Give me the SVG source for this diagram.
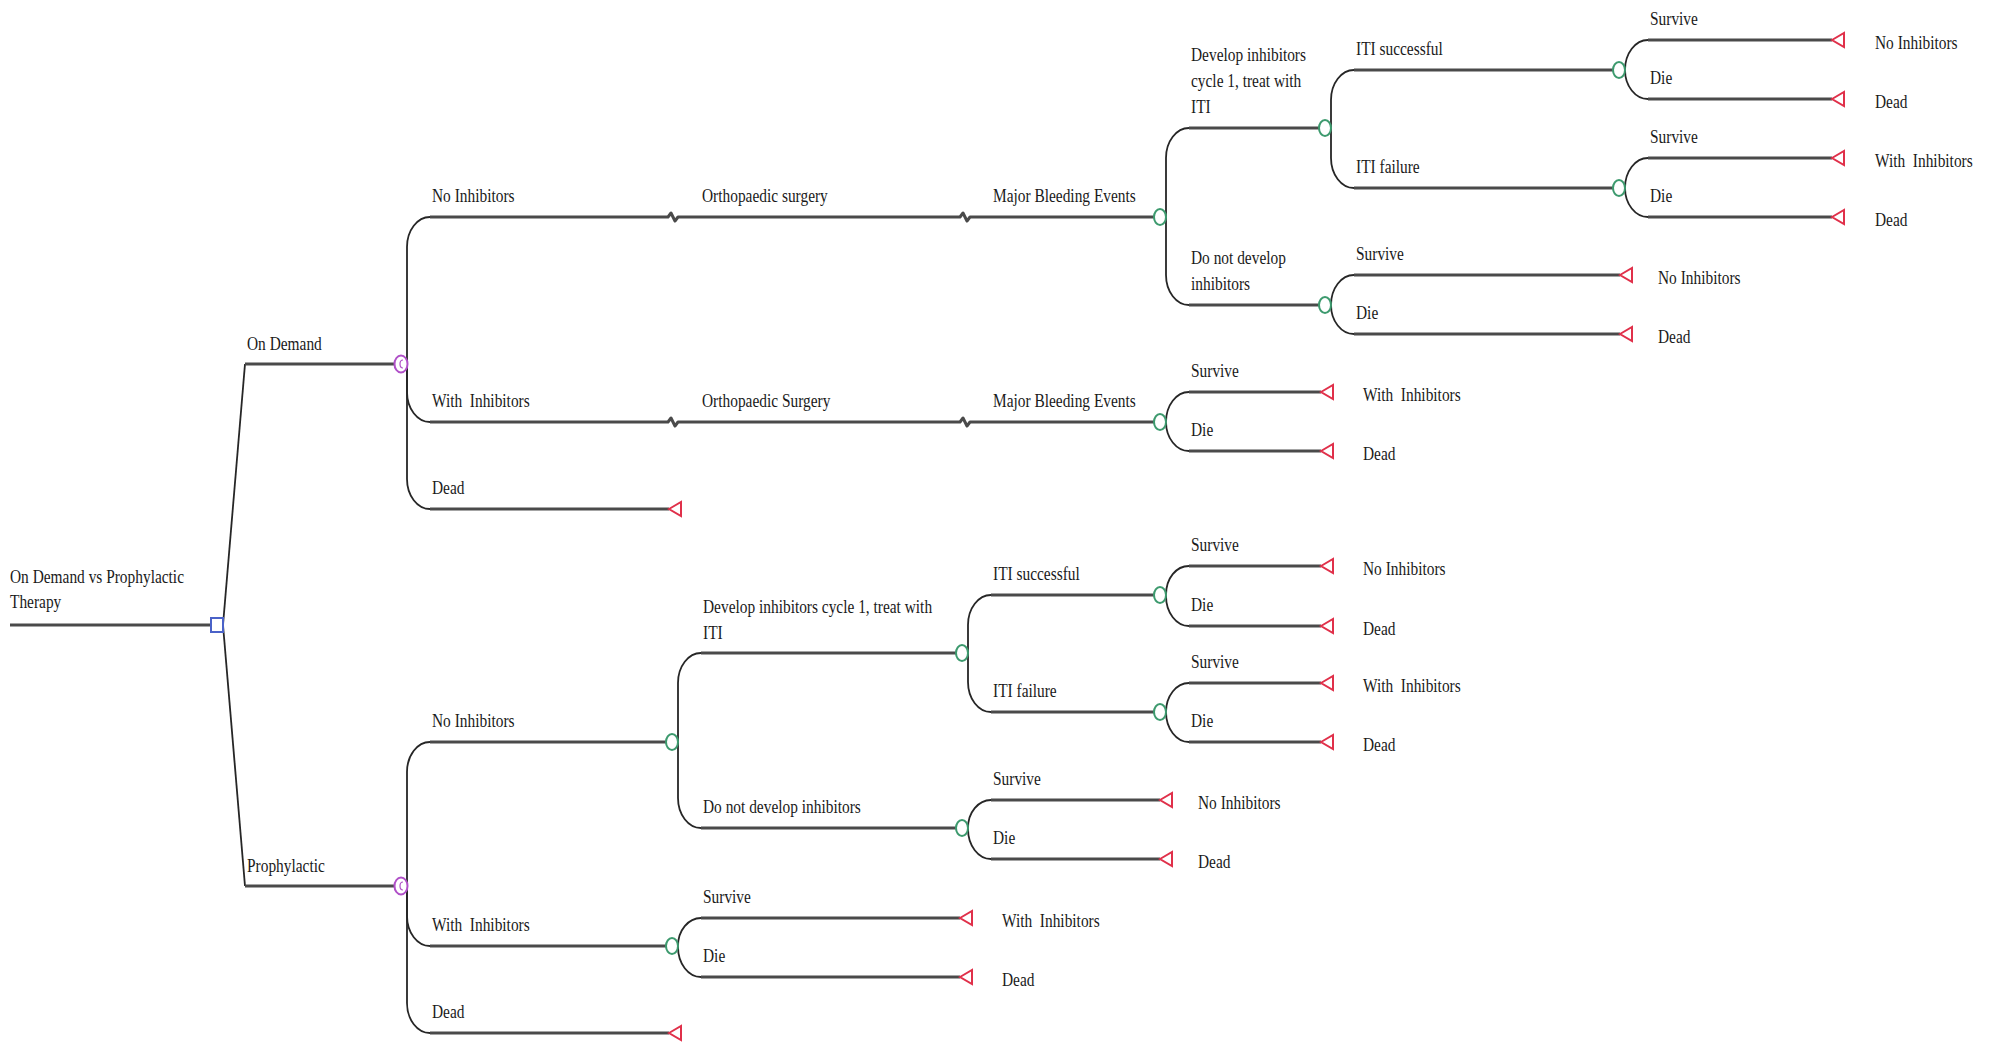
<svg xmlns="http://www.w3.org/2000/svg" width="1992" height="1044" viewBox="0 0 1992 1044">
<style>
  text { font-family: "Liberation Serif", "Times New Roman", serif; font-size: 15.4px; fill: #1a1a1a; white-space: pre; }
  .ln { fill: none; stroke: #4a4a4a; stroke-width: 3; stroke-linejoin: round; }
  .cv { fill: none; stroke: #262626; stroke-width: 1.8; }
  .dec { fill: #fff; stroke: #4a62c8; stroke-width: 2; }
  .mk { fill: #fff; stroke: #b050c8; stroke-width: 2; }
  .ch { fill: #fff; stroke: #3d9a6e; stroke-width: 2; }
  .tm { fill: #fff; stroke: #e0304a; stroke-width: 2; stroke-linejoin: miter; }
</style>
<rect width="1992" height="1044" fill="#fff"/>
<defs>
  <polygon id="tri" points="0,0 12,-7 12,7"/>
</defs>

<g id="connectors">
  <!-- root -->
  <path class="ln" d="M10,625 H211"/>
  <path class="cv" d="M223,625 L245,364"/>
  <path class="cv" d="M223,625 L245,886"/>
  <path class="ln" d="M245,364 H395"/>
  <path class="ln" d="M245,886 H395"/>
  <!-- P1 -->
  <path class="cv" d="M407,364 V247 C407,230.4 417.3,217 430,217"/>
  <path class="cv" d="M407,364 V392 C407,408.6 417.3,422 430,422"/>
  <path class="cv" d="M407,364 V479 C407,495.6 417.3,509 430,509"/>
  <path class="ln" d="M430,217 H668 L671,213 L675,221 L678,217 H960 L963,213 L967,221 L970,217 H1154"/>
  <path class="ln" d="M430,422 H668 L671,418 L675,426 L678,422 H960 L963,418 L967,426 L970,422 H1154"/>
  <path class="ln" d="M430,509 H669"/>
  <!-- G1 -->
  <path class="cv" d="M1166,217 V158 C1166,141.4 1176.3,128 1189,128"/>
  <path class="cv" d="M1166,217 V275 C1166,291.6 1176.3,305 1189,305"/>
  <path class="ln" d="M1189,128 H1319"/>
  <path class="ln" d="M1189,305 H1319"/>
  <!-- G3 -->
  <path class="cv" d="M1331,128 V100 C1331,83.4 1341.3,70 1354,70"/>
  <path class="cv" d="M1331,128 V158 C1331,174.6 1341.3,188 1354,188"/>
  <path class="ln" d="M1354,70 H1613"/>
  <path class="ln" d="M1354,188 H1613"/>
  <!-- G5 -->
  <path class="cv" d="M1625,70 C1625,53.4 1635.3,40 1648,40"/>
  <path class="cv" d="M1625,70 C1625,86 1635.3,99 1648,99"/>
  <path class="ln" d="M1648,40 H1832"/>
  <path class="ln" d="M1648,99 H1832"/>
  <!-- G6 -->
  <path class="cv" d="M1625,188 C1625,171.4 1635.3,158 1648,158"/>
  <path class="cv" d="M1625,188 C1625,204 1635.3,217 1648,217"/>
  <path class="ln" d="M1648,158 H1832"/>
  <path class="ln" d="M1648,217 H1832"/>
  <!-- G4 -->
  <path class="cv" d="M1331,305 C1331,288.4 1341.3,275 1354,275"/>
  <path class="cv" d="M1331,305 C1331,321 1341.3,334 1354,334"/>
  <path class="ln" d="M1354,275 H1620"/>
  <path class="ln" d="M1354,334 H1620"/>
  <!-- G2 -->
  <path class="cv" d="M1166,422 C1166,405.4 1176.3,392 1189,392"/>
  <path class="cv" d="M1166,422 C1166,438 1176.3,451 1189,451"/>
  <path class="ln" d="M1189,392 H1321"/>
  <path class="ln" d="M1189,451 H1321"/>
  <!-- P2 -->
  <path class="cv" d="M407,886 V772 C407,755.4 417.3,742 430,742"/>
  <path class="cv" d="M407,886 V916 C407,932.6 417.3,946 430,946"/>
  <path class="cv" d="M407,886 V1003 C407,1019.6 417.3,1033 430,1033"/>
  <path class="ln" d="M430,742 H666"/>
  <path class="ln" d="M430,946 H666"/>
  <path class="ln" d="M430,1033 H669"/>
  <!-- G7 -->
  <path class="cv" d="M678,742 V683 C678,666.4 688.3,653 701,653"/>
  <path class="cv" d="M678,742 V798 C678,814.6 688.3,828 701,828"/>
  <path class="ln" d="M701,653 H956"/>
  <path class="ln" d="M701,828 H956"/>
  <!-- G9 -->
  <path class="cv" d="M968,653 V625 C968,608.4 978.3,595 991,595"/>
  <path class="cv" d="M968,653 V682 C968,698.6 978.3,712 991,712"/>
  <path class="ln" d="M991,595 H1154"/>
  <path class="ln" d="M991,712 H1154"/>
  <!-- G11 -->
  <path class="cv" d="M1166,595 C1166,578 1176.3,566 1189,566"/>
  <path class="cv" d="M1166,595 V596 C1166,612.6 1176.3,626 1189,626"/>
  <path class="ln" d="M1189,566 H1321"/>
  <path class="ln" d="M1189,626 H1321"/>
  <!-- G12 -->
  <path class="cv" d="M1166,712 C1166,696 1176.3,683 1189,683"/>
  <path class="cv" d="M1166,712 C1166,728.6 1176.3,742 1189,742"/>
  <path class="ln" d="M1189,683 H1321"/>
  <path class="ln" d="M1189,742 H1321"/>
  <!-- G10 -->
  <path class="cv" d="M968,828 C968,812.5 978.3,800 991,800"/>
  <path class="cv" d="M968,828 V829 C968,845.6 978.3,859 991,859"/>
  <path class="ln" d="M991,800 H1160"/>
  <path class="ln" d="M991,859 H1160"/>
  <!-- G8 -->
  <path class="cv" d="M678,946 C678,930.5 688.3,918 701,918"/>
  <path class="cv" d="M678,946 V947 C678,963.6 688.3,977 701,977"/>
  <path class="ln" d="M701,918 H960"/>
  <path class="ln" d="M701,977 H960"/>
</g>

<g id="branch-labels">
  <text transform="translate(10 583) scale(1 1.2)">On Demand vs Prophylactic</text>
  <text transform="translate(10 608) scale(1 1.2)">Therapy</text>
  <text transform="translate(247 350) scale(1 1.2)">On Demand</text>
  <text transform="translate(247 872) scale(1 1.2)">Prophylactic</text>
  <text transform="translate(432 202) scale(1 1.2)">No Inhibitors</text>
  <text transform="translate(432 407) scale(1 1.2)">With  Inhibitors</text>
  <text transform="translate(432 494) scale(1 1.2)">Dead</text>
  <text transform="translate(702 202) scale(1 1.2)">Orthopaedic surgery</text>
  <text transform="translate(702 407) scale(1 1.2)">Orthopaedic Surgery</text>
  <text transform="translate(993 202) scale(1 1.2)">Major Bleeding Events</text>
  <text transform="translate(993 407) scale(1 1.2)">Major Bleeding Events</text>
  <text transform="translate(1191 61) scale(1 1.2)">Develop inhibitors</text>
  <text transform="translate(1191 87) scale(1 1.2)">cycle 1, treat with</text>
  <text transform="translate(1191 113) scale(1 1.2)">ITI</text>
  <text transform="translate(1191 264) scale(1 1.2)">Do not develop</text>
  <text transform="translate(1191 290) scale(1 1.2)">inhibitors</text>
  <text transform="translate(1356 55) scale(1 1.2)">ITI successful</text>
  <text transform="translate(1356 173) scale(1 1.2)">ITI failure</text>
  <text transform="translate(1650 25) scale(1 1.2)">Survive</text>
  <text transform="translate(1650 84) scale(1 1.2)">Die</text>
  <text transform="translate(1650 143) scale(1 1.2)">Survive</text>
  <text transform="translate(1650 202) scale(1 1.2)">Die</text>
  <text transform="translate(1356 260) scale(1 1.2)">Survive</text>
  <text transform="translate(1356 319) scale(1 1.2)">Die</text>
  <text transform="translate(1191 377) scale(1 1.2)">Survive</text>
  <text transform="translate(1191 436) scale(1 1.2)">Die</text>
  <text transform="translate(432 727) scale(1 1.2)">No Inhibitors</text>
  <text transform="translate(432 931) scale(1 1.2)">With  Inhibitors</text>
  <text transform="translate(432 1018) scale(1 1.2)">Dead</text>
  <text transform="translate(703 613) scale(1 1.2)">Develop inhibitors cycle 1, treat with</text>
  <text transform="translate(703 639) scale(1 1.2)">ITI</text>
  <text transform="translate(703 813) scale(1 1.2)">Do not develop inhibitors</text>
  <text transform="translate(993 580) scale(1 1.2)">ITI successful</text>
  <text transform="translate(993 697) scale(1 1.2)">ITI failure</text>
  <text transform="translate(1191 551) scale(1 1.2)">Survive</text>
  <text transform="translate(1191 611) scale(1 1.2)">Die</text>
  <text transform="translate(1191 668) scale(1 1.2)">Survive</text>
  <text transform="translate(1191 727) scale(1 1.2)">Die</text>
  <text transform="translate(993 785) scale(1 1.2)">Survive</text>
  <text transform="translate(993 844) scale(1 1.2)">Die</text>
  <text transform="translate(703 903) scale(1 1.2)">Survive</text>
  <text transform="translate(703 962) scale(1 1.2)">Die</text>
</g>

<g id="node-root"><rect class="dec" x="211" y="618" width="12" height="14"/></g>
<g id="node-ondemand"><ellipse class="mk" cx="401" cy="364" rx="6.5" ry="8.5"/><path d="M403,360 A3,4 0 1 0 403,368" fill="none" stroke="#b050c8" stroke-width="1.2"/></g>
<g id="node-prophylactic"><ellipse class="mk" cx="401" cy="886" rx="6.5" ry="8.5"/><path d="M403,882 A3,4 0 1 0 403,890" fill="none" stroke="#b050c8" stroke-width="1.2"/></g>
<g id="node-g1"><ellipse class="ch" cx="1160" cy="217" rx="6" ry="8"/></g>
<g id="node-g2"><ellipse class="ch" cx="1160" cy="422" rx="6" ry="8"/></g>
<g id="node-g3"><ellipse class="ch" cx="1325" cy="128" rx="6" ry="8"/></g>
<g id="node-g4"><ellipse class="ch" cx="1325" cy="305" rx="6" ry="8"/></g>
<g id="node-g5"><ellipse class="ch" cx="1619" cy="70" rx="6" ry="8"/></g>
<g id="node-g6"><ellipse class="ch" cx="1619" cy="188" rx="6" ry="8"/></g>
<g id="node-g7"><ellipse class="ch" cx="672" cy="742" rx="6" ry="8"/></g>
<g id="node-g8"><ellipse class="ch" cx="672" cy="946" rx="6" ry="8"/></g>
<g id="node-g9"><ellipse class="ch" cx="962" cy="653" rx="6" ry="8"/></g>
<g id="node-g10"><ellipse class="ch" cx="962" cy="828" rx="6" ry="8"/></g>
<g id="node-g11"><ellipse class="ch" cx="1160" cy="595" rx="6" ry="8"/></g>
<g id="node-g12"><ellipse class="ch" cx="1160" cy="712" rx="6" ry="8"/></g>

<g id="term-od-dead"><use href="#tri" class="tm" x="669" y="509"/></g>
<g id="term-g5a"><use href="#tri" class="tm" x="1832" y="40"/><text transform="translate(1875 49) scale(1 1.2)">No Inhibitors</text></g>
<g id="term-g5b"><use href="#tri" class="tm" x="1832" y="99"/><text transform="translate(1875 108) scale(1 1.2)">Dead</text></g>
<g id="term-g6a"><use href="#tri" class="tm" x="1832" y="158"/><text transform="translate(1875 167) scale(1 1.2)">With  Inhibitors</text></g>
<g id="term-g6b"><use href="#tri" class="tm" x="1832" y="217"/><text transform="translate(1875 226) scale(1 1.2)">Dead</text></g>
<g id="term-g4a"><use href="#tri" class="tm" x="1620" y="275"/><text transform="translate(1658 284) scale(1 1.2)">No Inhibitors</text></g>
<g id="term-g4b"><use href="#tri" class="tm" x="1620" y="334"/><text transform="translate(1658 343) scale(1 1.2)">Dead</text></g>
<g id="term-g2a"><use href="#tri" class="tm" x="1321" y="392"/><text transform="translate(1363 401) scale(1 1.2)">With  Inhibitors</text></g>
<g id="term-g2b"><use href="#tri" class="tm" x="1321" y="451"/><text transform="translate(1363 460) scale(1 1.2)">Dead</text></g>
<g id="term-pr-dead"><use href="#tri" class="tm" x="669" y="1033"/></g>
<g id="term-g11a"><use href="#tri" class="tm" x="1321" y="566"/><text transform="translate(1363 575) scale(1 1.2)">No Inhibitors</text></g>
<g id="term-g11b"><use href="#tri" class="tm" x="1321" y="626"/><text transform="translate(1363 635) scale(1 1.2)">Dead</text></g>
<g id="term-g12a"><use href="#tri" class="tm" x="1321" y="683"/><text transform="translate(1363 692) scale(1 1.2)">With  Inhibitors</text></g>
<g id="term-g12b"><use href="#tri" class="tm" x="1321" y="742"/><text transform="translate(1363 751) scale(1 1.2)">Dead</text></g>
<g id="term-g10a"><use href="#tri" class="tm" x="1160" y="800"/><text transform="translate(1198 809) scale(1 1.2)">No Inhibitors</text></g>
<g id="term-g10b"><use href="#tri" class="tm" x="1160" y="859"/><text transform="translate(1198 868) scale(1 1.2)">Dead</text></g>
<g id="term-g8a"><use href="#tri" class="tm" x="960" y="918"/><text transform="translate(1002 927) scale(1 1.2)">With  Inhibitors</text></g>
<g id="term-g8b"><use href="#tri" class="tm" x="960" y="977"/><text transform="translate(1002 986) scale(1 1.2)">Dead</text></g>
</svg>
